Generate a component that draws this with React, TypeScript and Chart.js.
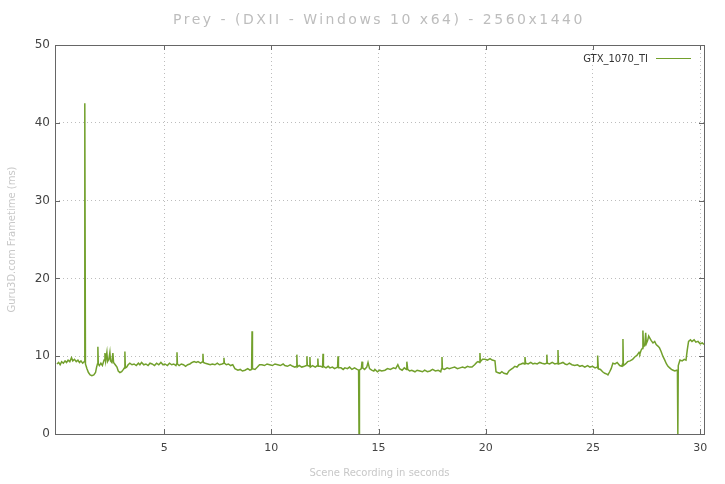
import React, { useEffect, useRef } from "react";
import { Chart, registerables } from "chart.js";

Chart.register(...registerables);

const TITLE = "Prey - (DXII - Windows 10 x64) - 2560x1440";
const SERIES_LABEL = "GTX_1070_TI";
const X_TITLE = "Scene Recording in seconds";
const Y_TITLE = "Guru3D.com Frametime (ms)";
const X_TICKS = [5, 10, 15, 20, 25, 30];
const Y_TICKS = [0, 10, 20, 30, 40, 50];

const times = [
  0.0, 0.08, 0.15, 0.22, 0.3, 0.38, 0.45, 0.52, 0.6, 0.68, 0.74, 0.82, 0.9, 0.98, 1.05, 1.12, 1.2, 1.27, 1.3, 1.33,
  1.4, 1.47, 1.55, 1.63, 1.72, 1.8, 1.85, 1.89, 1.91, 1.93, 1.98, 2.05, 2.12, 2.2, 2.24, 2.27, 2.33, 2.36, 2.42, 2.47,
  2.5, 2.56, 2.61, 2.64, 2.72, 2.8, 2.86, 2.94, 3.02, 3.1, 3.15, 3.17, 3.19, 3.25, 3.32, 3.4, 3.5, 3.6, 3.7, 3.8,
  3.87, 3.95, 4.05, 4.15, 4.25, 4.34, 4.44, 4.55, 4.65, 4.75, 4.85, 4.95, 5.04, 5.15, 5.25, 5.35, 5.45, 5.55, 5.58, 5.6,
  5.62, 5.7, 5.8, 5.9, 6.0, 6.1, 6.2, 6.3, 6.4, 6.5, 6.58, 6.7, 6.79, 6.81, 6.83, 6.92, 7.04, 7.15, 7.25, 7.37,
  7.48, 7.58, 7.7, 7.78, 7.79, 7.81, 7.9, 8.0, 8.1, 8.2, 8.3, 8.44, 8.55, 8.65, 8.77, 8.9, 9.0, 9.08, 9.1, 9.12,
  9.24, 9.35, 9.45, 9.56, 9.68, 9.8, 9.92, 10.05, 10.17, 10.3, 10.42, 10.55, 10.63, 10.75, 10.88, 11.0, 11.1, 11.17, 11.19, 11.21,
  11.3, 11.42, 11.55, 11.64, 11.66, 11.68, 11.78, 11.8, 11.82, 11.92, 12.05, 12.15, 12.17, 12.19, 12.3, 12.39, 12.41, 12.43, 12.55, 12.65,
  12.73, 12.85, 12.95, 13.09, 13.11, 13.13, 13.25, 13.35, 13.43, 13.55, 13.65, 13.76, 13.88, 14.0, 14.07, 14.09, 14.11, 14.2, 14.23, 14.26,
  14.35, 14.45, 14.51, 14.58, 14.68, 14.78, 14.83, 14.95, 15.05, 15.15, 15.3, 15.42, 15.55, 15.7, 15.8, 15.9, 15.98, 16.1, 16.2, 16.3,
  16.32, 16.36, 16.45, 16.55, 16.7, 16.8, 16.93, 17.05, 17.15, 17.28, 17.4, 17.52, 17.65, 17.78, 17.9, 17.94, 17.96, 17.98, 18.08, 18.2,
  18.3, 18.42, 18.55, 18.68, 18.8, 18.92, 19.03, 19.15, 19.25, 19.36, 19.48, 19.58, 19.64, 19.71, 19.73, 19.75, 19.85, 19.96, 20.08, 20.2,
  20.3, 20.43, 20.48, 20.55, 20.66, 20.75, 20.85, 20.99, 21.08, 21.18, 21.28, 21.36, 21.46, 21.55, 21.65, 21.74, 21.8, 21.83, 21.86, 21.98,
  22.1, 22.2, 22.29, 22.4, 22.52, 22.62, 22.75, 22.83, 22.85, 22.87, 22.98, 23.1, 23.22, 23.35, 23.37, 23.39, 23.5, 23.6, 23.7, 23.79,
  23.9, 24.02, 24.15, 24.28, 24.39, 24.5, 24.62, 24.75, 24.86, 24.98, 25.1, 25.19, 25.21, 25.23, 25.25, 25.35, 25.45, 25.55, 25.65, 25.7,
  25.78, 25.85, 25.93, 26.03, 26.13, 26.25, 26.35, 26.38, 26.4, 26.42, 26.52, 26.62, 26.73, 26.85, 26.95, 27.05, 27.15, 27.19, 27.25, 27.3,
  27.33, 27.36, 27.42, 27.46, 27.49, 27.55, 27.6, 27.66, 27.72, 27.8, 27.88, 27.95, 28.03, 28.1, 28.18, 28.26, 28.35, 28.43, 28.5, 28.58,
  28.66, 28.74, 28.82, 28.9, 28.94, 28.96, 28.98, 29.06, 29.16, 29.26, 29.34, 29.4, 29.46, 29.55, 29.62, 29.72, 29.8, 29.9, 30.0, 30.1,
  30.18,
];

const frametimes = [
  9.0, 9.2, 8.9, 9.3, 9.1, 9.4, 9.2, 9.5, 9.3, 9.8, 9.4, 9.6, 9.3, 9.5, 9.2, 9.4, 9.1, 9.3, 42.5, 9.0,
  8.4, 7.9, 7.6, 7.5, 7.6, 7.9, 8.6, 9.0, 11.2, 9.0, 8.8, 9.1, 8.8, 9.5, 10.4, 9.4, 10.5, 9.3, 9.6, 10.5,
  9.4, 9.2, 10.4, 9.2, 8.9, 8.6, 8.1, 7.9, 8.0, 8.3, 8.5, 10.6, 8.5, 8.6, 8.9, 9.1, 8.9, 9.0, 8.8, 9.1,
  8.9, 9.2, 8.9, 9.0, 8.8, 9.1, 9.0, 8.8, 9.1, 8.9, 9.2, 8.9, 9.0, 8.8, 9.1, 8.9, 9.0, 8.8, 9.0, 10.5,
  9.0, 8.8, 9.0, 8.9, 8.7, 8.9, 9.0, 9.2, 9.3, 9.2, 9.3, 9.1, 9.3, 10.3, 9.2, 9.1, 9.0, 8.9, 9.0, 8.9,
  9.1, 8.9, 9.0, 9.1, 9.8, 9.1, 8.9, 9.0, 8.8, 8.9, 8.4, 8.2, 8.3, 8.1, 8.2, 8.4, 8.2, 8.3, 13.2, 8.4,
  8.3, 8.6, 8.9, 8.9, 8.8, 9.0, 8.9, 8.8, 9.0, 8.9, 8.8, 9.0, 8.8, 8.7, 8.9, 8.7, 8.6, 8.7, 10.2, 8.6,
  8.8, 8.6, 8.7, 8.8, 10.0, 8.8, 8.7, 9.9, 8.6, 8.8, 8.6, 8.8, 9.7, 8.7, 8.7, 8.6, 10.3, 8.7, 8.5, 8.7,
  8.5, 8.6, 8.4, 8.6, 10.0, 8.5, 8.5, 8.3, 8.5, 8.4, 8.6, 8.3, 8.5, 8.3, 8.2, 0.0, 8.2, 8.4, 9.3, 8.5,
  8.3, 8.6, 9.2, 8.4, 8.2, 8.1, 8.3, 8.0, 8.2, 8.1, 8.2, 8.4, 8.3, 8.5, 8.4, 8.9, 8.4, 8.2, 8.5, 8.3,
  9.3, 8.3, 8.1, 8.2, 8.0, 8.2, 8.1, 8.0, 8.2, 8.0, 8.1, 8.3, 8.1, 8.2, 8.0, 8.4, 9.9, 8.4, 8.3, 8.5,
  8.4, 8.5, 8.6, 8.4, 8.5, 8.6, 8.5, 8.7, 8.6, 8.6, 8.9, 9.2, 9.3, 9.2, 10.4, 9.3, 9.6, 9.6, 9.5, 9.7,
  9.5, 9.4, 8.0, 7.9, 7.8, 8.0, 7.8, 7.7, 8.1, 8.3, 8.5, 8.7, 8.6, 8.9, 9.0, 9.1, 9.0, 9.9, 9.1, 9.0,
  9.2, 9.0, 9.1, 9.0, 9.2, 9.1, 9.0, 9.1, 10.2, 9.1, 9.0, 9.2, 9.0, 9.1, 10.8, 9.0, 9.1, 9.2, 9.0, 8.9,
  9.1, 8.9, 8.8, 8.9, 8.7, 8.8, 8.6, 8.8, 8.6, 8.7, 8.5, 8.6, 8.5, 10.1, 8.4, 8.3, 8.0, 7.8, 7.7, 7.6,
  8.0, 8.4, 9.1, 9.0, 9.2, 8.8, 8.7, 9.0, 12.2, 8.8, 9.0, 9.3, 9.4, 9.6, 9.9, 10.1, 10.5, 10.3, 10.8, 11.0,
  13.3, 11.2, 11.4, 13.0, 11.6, 12.0, 12.6, 12.3, 12.0, 11.7, 11.9, 11.5, 11.3, 11.1, 10.6, 10.0, 9.5, 9.0, 8.7, 8.5,
  8.3, 8.2, 8.1, 8.2, 8.2, 0.0, 8.8, 9.5, 9.4, 9.6, 9.5, 10.8, 11.9, 12.1, 11.9, 12.1, 11.8, 11.9, 11.6, 11.7,
  11.5,
];

const LINE_COLOR = "#72a02c";

const framePlugin = {
  id: "gnuFrame",
  afterDraw(chart: any) {
    const { ctx, chartArea } = chart;
    const { left, right, top, bottom } = chartArea;
    const xs = chart.scales.x;
    const ys = chart.scales.y;
    ctx.save();
    ctx.strokeStyle = "#666";
    ctx.lineWidth = 1;
    ctx.strokeRect(Math.round(left) + 0.5, Math.round(top) + 0.5, Math.round(right - left), Math.round(bottom - top));
    const tl = 5;
    ctx.beginPath();
    X_TICKS.forEach((v) => {
      const px = Math.round(xs.getPixelForValue(v)) + 0.5;
      ctx.moveTo(px, bottom);
      ctx.lineTo(px, bottom - tl);
      ctx.moveTo(px, top);
      ctx.lineTo(px, top + tl);
    });
    Y_TICKS.forEach((v) => {
      const py = Math.round(ys.getPixelForValue(v)) + 0.5;
      ctx.moveTo(left, py);
      ctx.lineTo(left + tl, py);
      ctx.moveTo(right, py);
      ctx.lineTo(right - tl, py);
    });
    ctx.stroke();

    // title
    ctx.fillStyle = "#bdbdbd";
    ctx.font = "14px 'DejaVu Sans'";
    ctx.textAlign = "center";
    ctx.textBaseline = "middle";
    (ctx as any).letterSpacing = "2.5px";
    ctx.fillText(TITLE, 379, 20);
    (ctx as any).letterSpacing = "0px";

    // legend
    ctx.fillStyle = "#333";
    ctx.font = "10px 'DejaVu Sans'";
    ctx.textAlign = "right";
    ctx.fillText(chart.data.datasets[0].label, 648, 59);
    ctx.strokeStyle = LINE_COLOR;
    ctx.beginPath();
    ctx.moveTo(656, 58.5);
    ctx.lineTo(691, 58.5);
    ctx.stroke();
    ctx.restore();
  },
};

export default function App() {
  const ref = useRef<HTMLCanvasElement | null>(null);

  useEffect(() => {
    document.body.style.margin = "0";
    const points = times.map((t, i) => ({ x: t, y: frametimes[i] }));
    const chart = new Chart(ref.current as HTMLCanvasElement, {
      type: "line",
      data: {
        datasets: [
          {
            label: SERIES_LABEL,
            data: points,
            borderColor: LINE_COLOR,
            borderWidth: 1.5,
            pointRadius: 0,
            tension: 0,
            fill: false,
          },
        ],
      },
      options: {
        animation: false,
        responsive: false,
        maintainAspectRatio: false,
        layout: { padding: { top: 45, right: 21, left: 0, bottom: 0 } },
        plugins: {
          legend: { display: false },
          title: { display: false },
          tooltip: { enabled: false },
        },
        scales: {
          x: {
            type: "linear",
            min: -0.09,
            max: 30.18,
            afterFit: (s: any) => {
              s.height = 50;
            },
            afterBuildTicks: (s: any) => {
              s.ticks = X_TICKS.map((v) => ({ value: v }));
            },
            border: { display: false, dash: [1, 3] },
            grid: {
              color: "#bdbdbd",
              drawTicks: false,
              tickLength: 0,
            },
            ticks: {
              padding: 8,
              color: "#444",
              font: { family: "'DejaVu Sans'", size: 11 },
              maxRotation: 0,
              autoSkip: false,
            },
            title: {
              display: true,
              text: X_TITLE,
              color: "#c8c8c8",
              font: { family: "'DejaVu Sans'", size: 10 },
              padding: { top: 0, bottom: 5 },
            },
          },
          y: {
            type: "linear",
            min: 0,
            max: 50,
            afterFit: (s: any) => {
              s.width = 55;
            },
            afterBuildTicks: (s: any) => {
              s.ticks = Y_TICKS.map((v) => ({ value: v }));
            },
            border: { display: false, dash: [1, 3] },
            grid: {
              color: "#bdbdbd",
              drawTicks: false,
              tickLength: 0,
            },
            ticks: {
              padding: 5,
              color: "#444",
              font: { family: "'DejaVu Sans'", size: 12 },
            },
            title: {
              display: true,
              text: Y_TITLE,
              color: "#c8c8c8",
              font: { family: "'DejaVu Sans'", size: 10 },
              padding: { top: 6, bottom: 0 },
            },
          },
        },
      },
      plugins: [framePlugin],
    } as any);
    return () => chart.destroy();
  }, []);

  return (
    <div style={{ width: 725, height: 484 }}>
      <canvas ref={ref} width={725} height={484} style={{ display: "block" }} />
    </div>
  );
}
